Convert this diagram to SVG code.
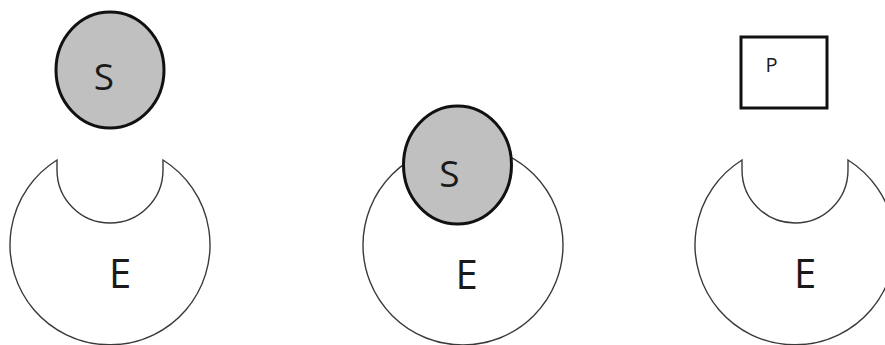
<svg xmlns="http://www.w3.org/2000/svg" width="885" height="345" viewBox="0 0 885 345">
<style>
.enz{fill:#ffffff;stroke:#3a3a3a;stroke-width:1.4}
.sub{fill:#c0c0c0;stroke:#111111;stroke-width:3}
.box{fill:#ffffff;stroke:#111111;stroke-width:3}
.lbl{font-family:"Open Sans","DejaVu Sans",sans-serif;fill:#1a1a1a;text-anchor:middle}
</style>
<rect width="885" height="345" fill="#ffffff"/>
<g id="enzyme-1">
<path class="enz" d="M57 160 A100 100 0 1 0 163 160 L163 170 A53 53 0 0 1 57 170 Z"/>
<text class="lbl" x="120" y="288" font-size="40">E</text>
</g>
<g id="substrate-1">
<ellipse class="sub" cx="110" cy="70" rx="54" ry="58"/>
<text class="lbl" x="104" y="90" font-size="37">S</text>
</g>
<g id="enzyme-2">
<circle class="enz" cx="463" cy="245" r="100"/>
<text class="lbl" x="466.5" y="289" font-size="40">E</text>
</g>
<g id="substrate-2">
<ellipse class="sub" cx="457.5" cy="165" rx="54" ry="59"/>
<text class="lbl" x="449.5" y="187" font-size="37">S</text>
</g>
<g id="enzyme-3">
<path class="enz" d="M742 160 A100 100 0 1 0 848 160 L848 170 A53 53 0 0 1 742 170 Z"/>
<text class="lbl" x="805" y="288" font-size="40">E</text>
</g>
<g id="product-3">
<rect class="box" x="741" y="37" width="86" height="71"/>
<text class="lbl" x="771.5" y="72" font-size="20">P</text>
</g>
<g id="connectors"/>
</svg>
